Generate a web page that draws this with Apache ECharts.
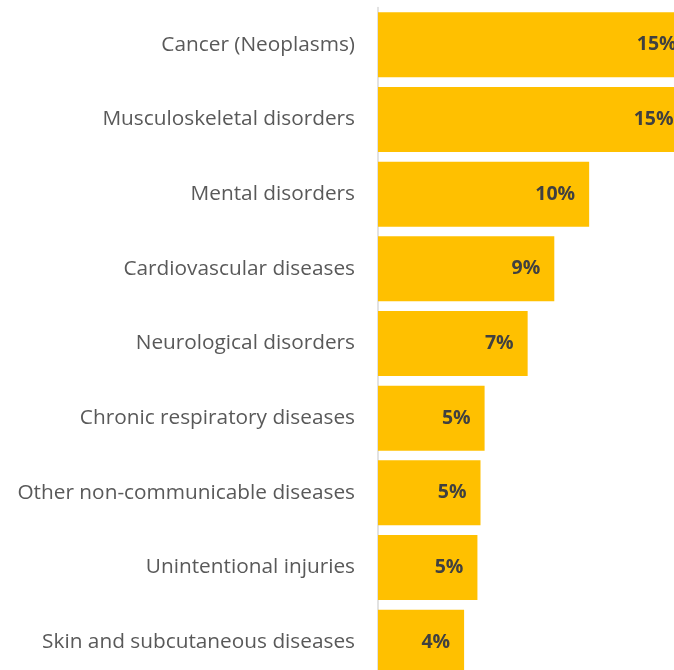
<!DOCTYPE html>
<html>
<head>
<meta charset="utf-8">
<script src="https://cdn.jsdelivr.net/npm/echarts@6/dist/echarts.min.js"></script>
<style>
  html, body { margin: 0; padding: 0; background: #fff; overflow: hidden; }
  /* el grafico original esta recortado a la derecha y abajo */
  #chart { width: 800px; height: 690px; }
</style>
</head>
<body>
<div id="chart"></div>
<script>
// categorias (de arriba hacia abajo)
var categorias = [
    'Cancer (Neoplasms)',
    'Musculoskeletal disorders',
    'Mental disorders',
    'Cardiovascular diseases',
    'Neurological disorders',
    'Chronic respiratory diseases',
    'Other non-communicable diseases',
    'Unintentional injuries',
    'Skin and subcutaneous diseases'
];

// porcentaje por causa
var valores = [15.25, 15.1, 10.3, 8.6, 7.3, 5.2, 5.0, 4.85, 4.2];

var chart = echarts.init(document.getElementById('chart'));
chart.setOption({
    animation: false,
    grid: {
        left: 378,
        right: 12,
        top: 7.5,
        bottom: 10.5,
        containLabel: false
    },
    xAxis: {
        type: 'value',
        min: 0,
        max: 20,
        show: false
    },
    yAxis: {
        type: 'category',
        data: categorias,
        inverse: true,
        axisTick: { show: false },
        axisLine: {
            show: true,
            lineStyle: { color: '#d9d9d9', width: 1.5 }
        },
        axisLabel: {
            color: '#595959',
            fontSize: 20.8,
            fontFamily: 'Open Sans',
            margin: 23
        }
    },
    series: [{
        type: 'bar',
        data: valores,
        barCategoryGap: '13%',
        itemStyle: { color: '#FFC000' },
        label: {
            show: true,
            position: 'insideRight',
            distance: 14,
            color: '#404040',
            fontWeight: 'bold',
            fontSize: 19.5,
            fontFamily: 'Open Sans',
            formatter: function(p) { return Math.round(p.value) + '%'; }
        }
    }]
});
</script>
</body>
</html>
